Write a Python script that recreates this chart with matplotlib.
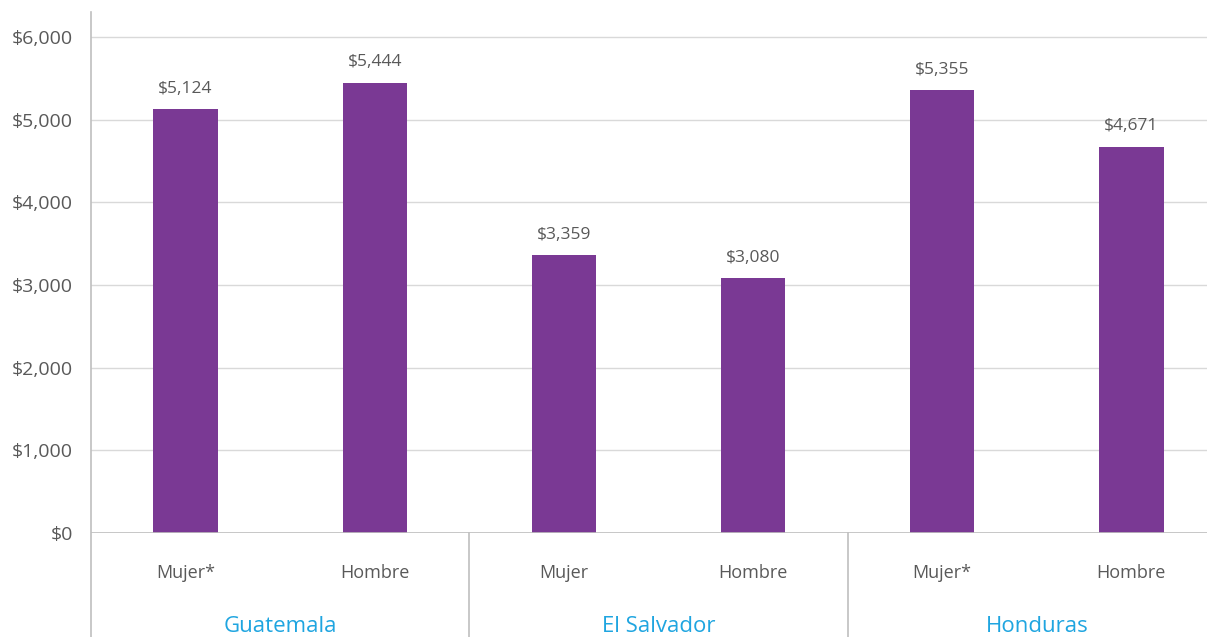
import matplotlib
matplotlib.use("Agg")
import matplotlib.pyplot as plt
from matplotlib.transforms import blended_transform_factory
from matplotlib.ticker import FuncFormatter

countries = ["Guatemala", "El Salvador", "Honduras"]
sexes = ["Mujer*", "Hombre", "Mujer", "Hombre", "Mujer*", "Hombre"]
values = [5124, 5444, 3359, 3080, 5355, 4671]
yticks = [0, 1000, 2000, 3000, 4000, 5000, 6000]

plt.rcParams['font.family'] = ['Open Sans', 'DejaVu Sans']

W, H = 1207, 637
fig = plt.figure(figsize=(W / 100, H / 100), dpi=100)
left, right, bottom, top = 91, 1226, 533, 12
ax = fig.add_axes([left / W, (H - bottom) / H, (right - left) / W, (bottom - top) / H])

bar_color = "#7A3994"
text_color = "#595959"
grid_color = "#D9D9D9"
axis_color = "#BFBFBF"
country_color = "#1FA5E0"

x = [i + 0.5 for i in range(len(values))]
bars = ax.bar(x, values, width=0.34, color=bar_color, zorder=3)
for xi, v in zip(x, values):
    ax.annotate(f"${v:,}", (xi, v), xytext=(0, 9), textcoords="offset points",
                ha="center", va="bottom", fontsize=12.5, color=text_color)

ax.set_xlim(0, 6)
ax.set_ylim(0, 6300)
ax.set_yticks(yticks)
ax.yaxis.set_major_formatter(FuncFormatter(lambda v, p: f"${int(v):,}"))
ax.tick_params(axis="y", length=0, pad=13, labelsize=14, labelcolor=text_color)
ax.set_xticks([])
ax.grid(axis="y", color=grid_color, linewidth=1, zorder=0)
for s in ["top", "right", "bottom", "left"]:
    ax.spines[s].set_visible(False)
ax.axhline(0, color=axis_color, linewidth=1.2, zorder=4)

trans = blended_transform_factory(ax.transData, ax.transAxes)
ybot = (bottom - H) / (bottom - top)
for xs in [0, 2, 4]:
    ax.plot([xs, xs], [ybot, 1 if xs == 0 else 0], transform=trans,
            color=axis_color, linewidth=1.2, clip_on=False, zorder=4)

ysex = (bottom - 573) / (bottom - top)
ycountry = (bottom - 626) / (bottom - top)
for xi, s in zip(x, sexes):
    ax.text(xi, ysex, s, transform=trans, ha="center", va="center",
            fontsize=13, color=text_color)
for i, c in enumerate(countries):
    ax.text(2 * i + 1, ycountry, c, transform=trans, ha="center", va="center",
            fontsize=16, color=country_color)

fig.savefig("out.png", dpi=100)
